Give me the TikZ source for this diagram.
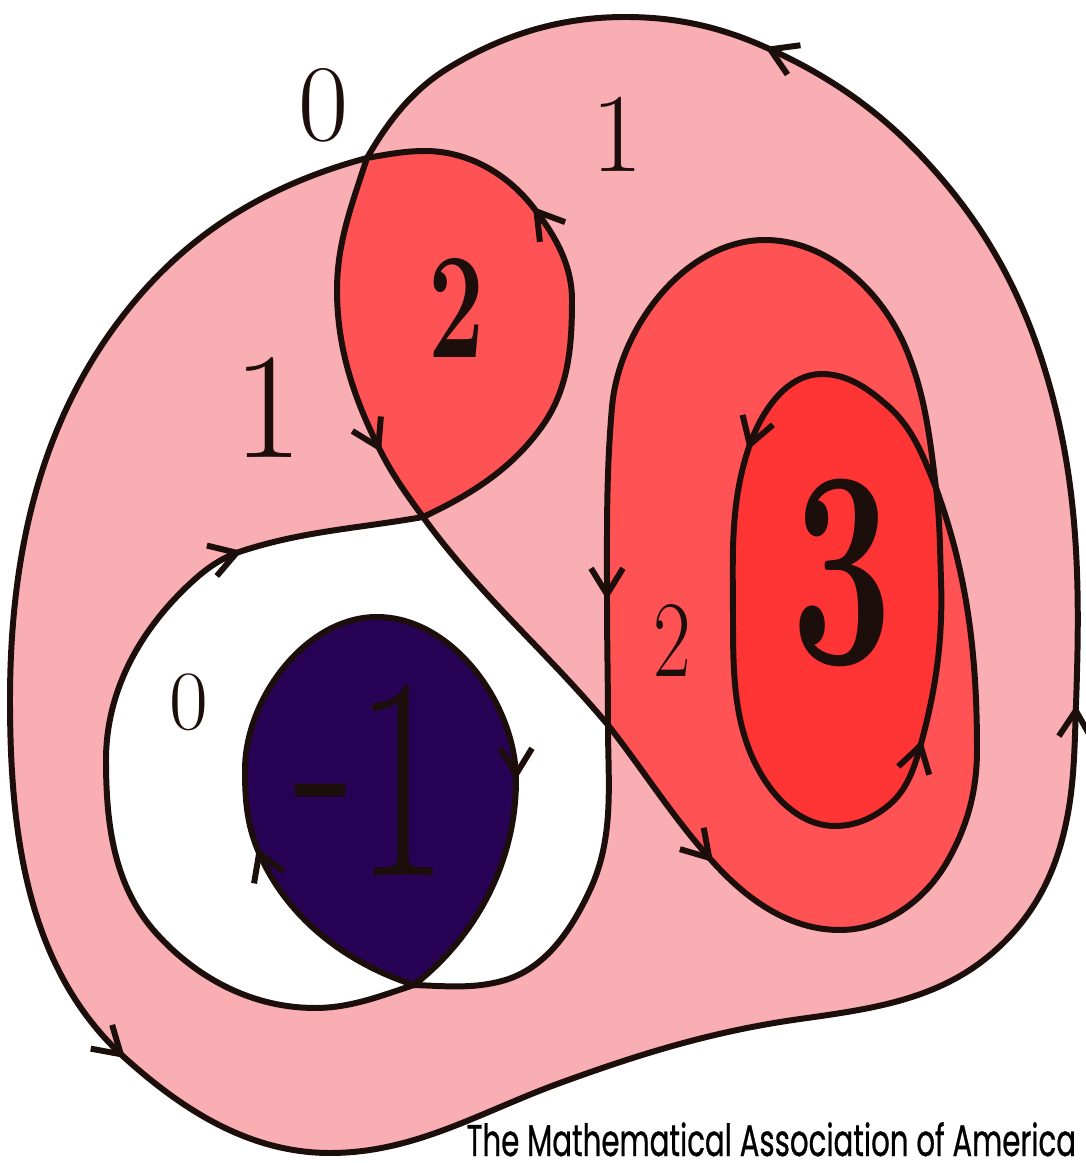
\documentclass[tikz,border=0pt]{standalone}
\usepackage{fontspec}
\usepackage{graphicx}
\usepackage{tikz}
\usetikzlibrary{arrows.meta}
\newfontfamily\maafont{Poppins}[FakeBold=0.8]
\definecolor{ink}{RGB}{28,14,10}
\definecolor{windone}{RGB}{248,174,178}
\definecolor{windtwo}{RGB}{254,82,84}
\definecolor{windthree}{RGB}{255,52,52}
\definecolor{windneg}{RGB}{40,2,84}

\begin{document}
\begin{tikzpicture}[>={Straight Barb[length=2.6mm,width=3.2mm]},
  loopline/.style={draw=ink,line width=1.7pt,line join=round,looseness=0.9},
  num/.style={inner sep=0pt,text=ink}]
\useasboundingbox (0,0) rectangle (10.86,11.63);
% crossings of the curve
\coordinate (P1) at (3.67,10.05);
\coordinate (P2) at (4.23,6.46);
\coordinate (P3) at (6.08,4.38);
\coordinate (P4) at (9.36,6.75);
\coordinate (P5) at (4.14,1.78);
% arrow points
\coordinate (a1) at (1.25,1.05);
\coordinate (a2) at (10.76,4.58);
\coordinate (a3) at (7.65,11.16);
\coordinate (b1) at (3.81,7.11);
\coordinate (b2) at (5.33,9.56);
\coordinate (c1) at (7.13,3.01);
\coordinate (c2) at (6.07,5.63);
\coordinate (d1) at (7.48,7.13);
\coordinate (d2) at (9.22,4.23);
\coordinate (w1) at (2.42,6.12);
\coordinate (e1) at (2.57,3.15);
\coordinate (e2) at (5.16,3.83);
%% outer loop
\draw[loopline,fill=windone](P1)to[out=195,in=49](1.40,8.68)
  to[out=229,in=90](0.10,4.63)to[out=270,in=138](a1)
  to[out=318,in=180](3.30,0.10)to[out=0,in=200](5.60,0.80)
  to[out=20,in=188](8.00,1.44)to[out=8,in=220](9.90,2.08)
  to[out=40,in=255](10.62,3.23)to[out=75,in=268](a2)
  to[out=88,in=287](10.45,7.93)to[out=107,in=313](9.24,10.04)
  to[out=133,in=336](a3)to[out=156,in=0](6.25,11.46)
  to[out=180,in=31](4.50,10.96)to[out=211,in=60](P1)--cycle;
%% lobe
\draw[loopline,fill=windtwo](P1)to[out=252,in=90](3.37,8.73)
  to[out=270,in=117](b1)to[out=297,in=126](P2)
  to[out=25,in=235](5.43,7.38)to[out=55,in=270](5.72,8.63)
  to[out=90,in=308](b2)to[out=128,in=0](4.25,10.12)
  to[out=180,in=10](P1)--cycle;
%% big right loop
\draw[loopline,fill=windtwo](P3)to[out=-52,in=132](c1)
  to[out=-48,in=180](8.40,2.33)to[out=0,in=240](9.47,3.01)
  to[out=60,in=270](9.77,4.13)to[out=90,in=290](P4)
  to[out=97,in=292](9.07,8.12)to[out=112,in=0](7.65,9.23)
  to[out=180,in=85](6.12,7.56)to[out=265,in=90](c2)
  to[out=270,in=90](P3)--cycle;
%% inner right loop
\draw[loopline,fill=windthree](P4)to[out=112,in=318](8.89,7.56)
  to[out=138,in=0](8.22,7.89)to[out=180,in=72](d1)
  to[out=252,in=90](7.33,5.43)to[out=270,in=125](7.68,3.78)
  to[out=-55,in=180](8.35,3.37)to[out=0,in=220](8.89,3.58)
  to[out=40,in=255](d2)to[out=75,in=272](9.41,5.83)
  to[out=92,in=277](P4)--cycle;
%% white loop
\draw[loopline,fill=white](P2)to[out=-54,in=130](P3)
  to[out=270,in=65](5.90,2.73)to[out=245,in=15](5.02,1.82)
  to[out=195,in=-2](P5)to[out=198,in=0](3.15,1.55)
  to[out=180,in=312](1.56,2.30)to[out=132,in=270](1.06,4.03)
  to[out=90,in=222](1.94,5.83)to[out=42,in=198](w1)
  to[out=18,in=190](P2)--cycle;
%% negative loop
\draw[loopline,fill=windneg](P5)to[out=162,in=292](e1)
  to[out=112,in=270](2.45,3.93)to[out=90,in=180](3.77,5.46)
  to[out=0,in=90](e2)to[out=270,in=38](P5)--cycle;
%% arrows
\foreach \pt/\ang in {a1/318,a2/88,a3/156,b1/297,b2/128,c1/312,
  c2/270,d1/252,d2/75,w1/18,e1/112,e2/270}
  \draw[loopline,->]([shift={(\ang+180:0.12)}]\pt)--(\pt);
%% winding numbers
\node[num,font=\fontsize{31}{31}\selectfont](zeroout) at (3.24,10.58){0};
\node[num,font=\fontsize{32}{32}\selectfont](oneup) at (6.17,10.29){1};
\node[num,font=\fontsize{43}{43}\selectfont](oneleft) at (2.68,7.55){1};
\node[num,font=\bfseries\fontsize{43}{43}\selectfont](twolobe) at (4.57,8.55){\scalebox{0.66}[1]{2}};
\node[num,font=\fontsize{31}{31}\selectfont](tworight) at (6.72,5.23){\scalebox{0.75}[1]{2}};
\node[num,font=\bfseries\fontsize{80}{80}\selectfont](three) at (8.42,5.90){\scalebox{0.64}[1]{3}};
\node[num,font=\fontsize{24}{24}\selectfont](zeroin) at (1.89,4.61){0};
\node[num,font=\fontsize{82}{82}\selectfont](minusone) at (3.71,3.83){\scalebox{0.7}[1]{\raisebox{0.08em}{-}1}};
\node[anchor=base west,inner sep=0pt,font=\maafont\fontsize{12.6}{13}\selectfont](maa)
  at (4.66,0.07){\scalebox{0.66}[1]{The Mathematical Association of America}};
\end{tikzpicture}
\end{document}
